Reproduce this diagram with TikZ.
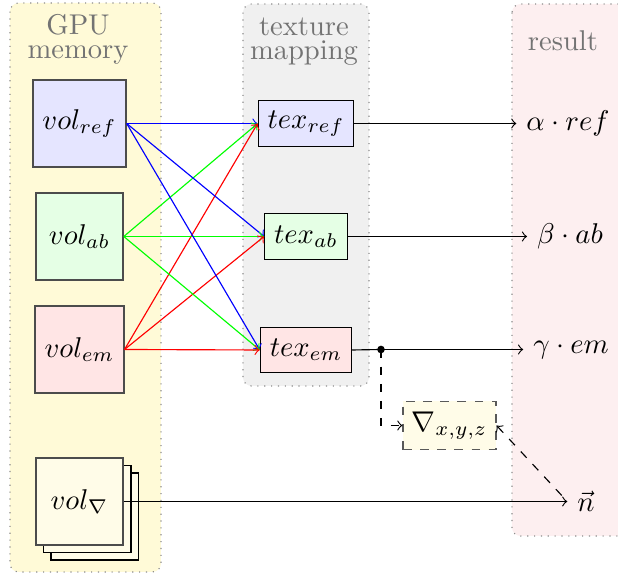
\documentclass[tikz,border=0pt]{standalone}
\begin{document}
\definecolor{gpuyellow}{RGB}{255,250,215}
\definecolor{respink}{RGB}{253,239,240}
\definecolor{texgray}{RGB}{240,240,240}
\definecolor{nabfill}{RGB}{255,252,232}
\begin{tikzpicture}[x=0.35pt,y=-0.35pt,
  panel/.style={draw=black!45, dotted, rounded corners=3pt},
  ptitle/.style={text=black!55, inner sep=0pt, anchor=base},
  volbox/.style={draw=black!70, line width=0.5pt, minimum width=30.5pt, minimum height=30.5pt, inner sep=3.3pt},
  shadowbox/.style={draw=black, line width=0.5pt, fill=nabfill},
  texbox/.style={draw=black, minimum height=16pt, inner xsep=3.3pt},
  resnode/.style={inner sep=3.33pt},
  conn/.style={->}]
\useasboundingbox (0,0) rectangle (618,573);
% panels
\draw[panel, fill=gpuyellow] (10,3) rectangle (161,572);
\draw[panel, fill=texgray] (243,4) rectangle (369,386);
\draw[panel, fill=respink] (512,4) rectangle (650,536);
% titles
\node[ptitle] (gpu1) at (78,34.5) {GPU};
\node[ptitle] (gpu2) at (78,59) {memory};
\node[ptitle] (tm1) at (304,35.5) {texture};
\node[ptitle] (tm2) at (304,60) {mapping};
\node[ptitle] (rs) at (563,51) {result};
% volume nodes
\node[volbox, fill=blue!10] (vref) at (79.5,123.5) {$vol_{ref}$};
\node[volbox, fill=green!10] (vab) at (79.5,236.5) {$vol_{ab}$};
\node[volbox, fill=red!10] (vem) at (79.5,349.5) {$vol_{em}$};
\draw[shadowbox] (51,473) rectangle (138.5,560);
\draw[shadowbox] (43.5,465.5) rectangle (131,552.5);
\node[volbox, fill=nabfill] (vnab) at (79.5,501.5) {$vol_{\nabla}$};
% texture nodes
\node[texbox, fill=blue!10] (tref) at (306,123.5) {$tex_{ref}$};
\node[texbox, fill=green!10] (tab) at (306,236.5) {$tex_{ab}$};
\node[texbox, fill=red!10] (tem) at (306,350) {$tex_{em}$};
% results
\node[resnode] (rref) at (568,123.5) {$\alpha\cdot ref$};
\node[resnode] (rab) at (570,236.5) {$\beta\cdot ab$};
\node[resnode] (rem) at (571,349.5) {$\gamma\cdot em$};
\node[resnode] (rn) at (586,501.5) {$\vec{n}$};
% gradient
\node[draw=black!65, dashed, fill=nabfill, minimum height=17pt, inner xsep=3pt] (grad) at (449.5,425.5) {$\nabla_{x,y,z}$};
% connectors
\foreach \t in {tref,tab,tem} {
  \draw[conn, blue] (vref.east) -- (\t.west);
  \draw[conn, green] (vab.east) -- (\t.west);
  \draw[conn, red] (vem.east) -- (\t.west);
}
\draw[conn] (tref.east) -- (rref.west);
\draw[conn] (tab.east) -- (rab.west);
\coordinate (split) at (381,349.5);
\draw (tem.east) -- (split);
\draw[conn] (split) -- (rem.west);
\fill (split) circle (3.8);
\draw[conn, dashed] (split) |- (grad.west);
\draw[<-, dashed] (grad.east) -- (rn.west);
\draw[conn] (vnab.east) -- (rn.west);
\end{tikzpicture}
\end{document}
